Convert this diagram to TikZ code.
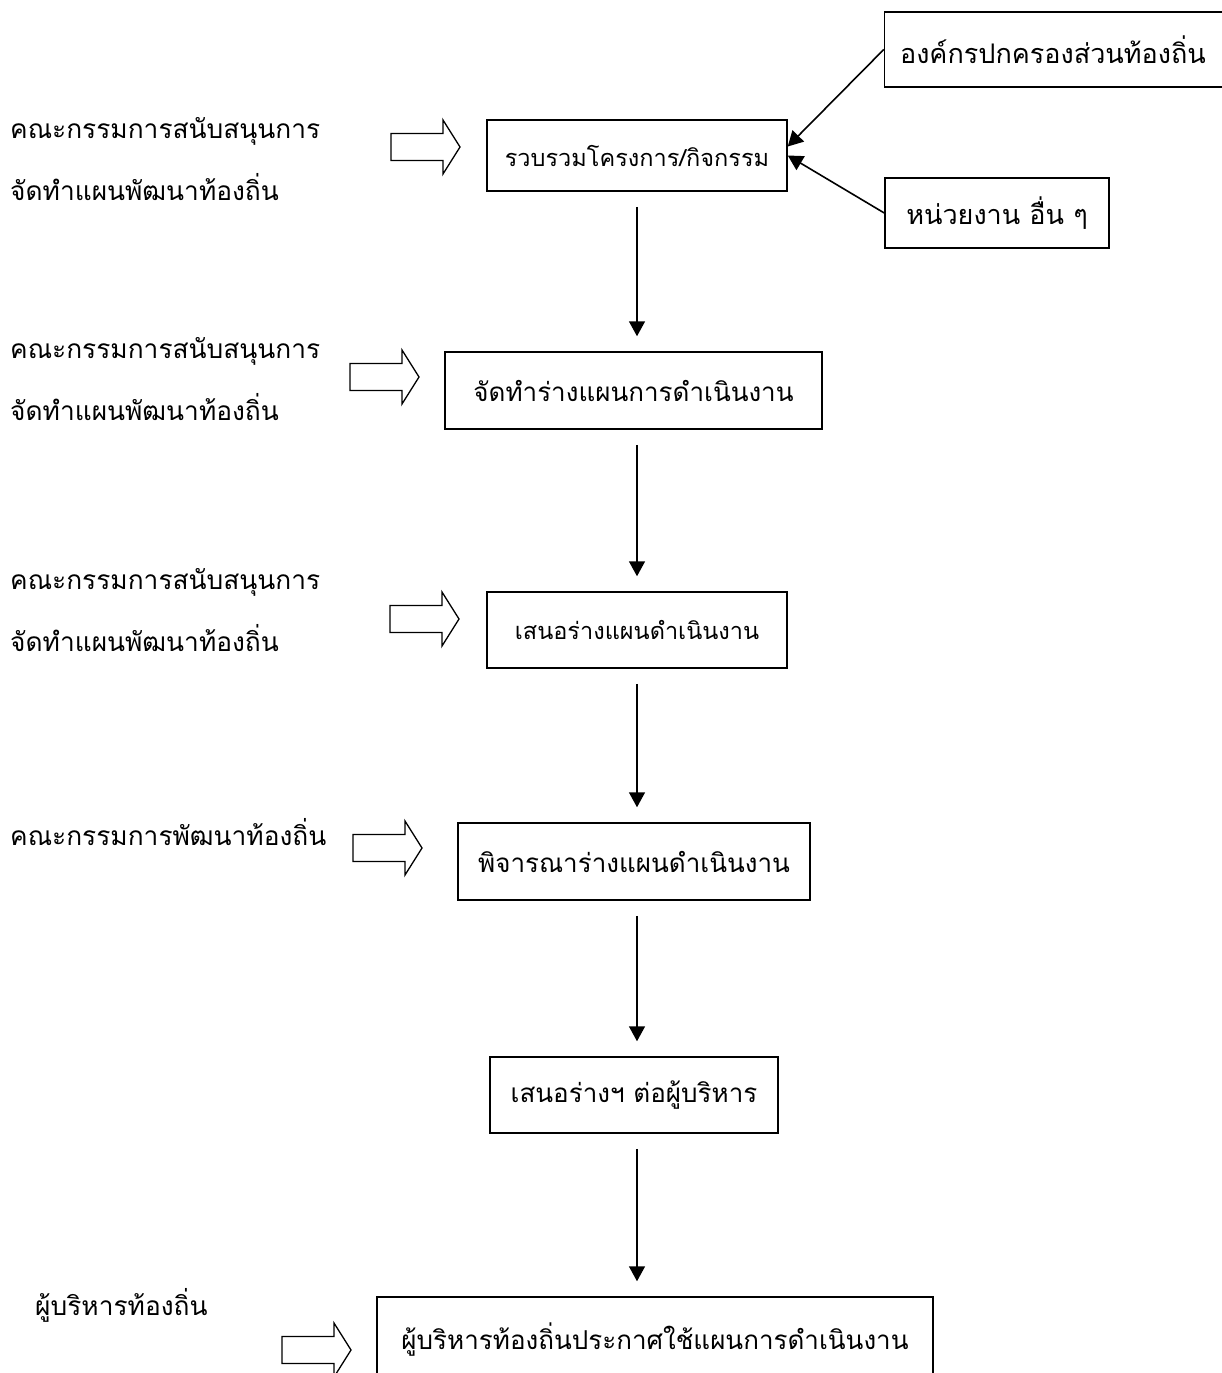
\documentclass[tikz,border=0pt]{standalone}
\usepackage{fontspec}
\newfontfamily\thaifont[Script=Thai]{Loma}
\usetikzlibrary{arrows.meta}

\begin{document}
\begin{tikzpicture}[x=1pt, y=-1pt,
    box/.style={draw, line width=1.5pt, inner sep=0pt, font=\thaifont\fontsize{26}{32}\selectfont},
    smallbox/.style={box, font=\thaifont\fontsize{23.5}{30}\selectfont},
    sidebox/.style={box, font=\thaifont\fontsize{27}{32}\selectfont},
    lbl/.style={anchor=west, inner sep=0pt, align=left, font=\thaifont\fontsize{26.3}{62}\selectfont},
    flow/.style={line width=1.6pt, -{Triangle[width=16pt,length=15pt]}, shorten <=15pt, shorten >=15pt},
    feed/.style={line width=1.6pt, -{Triangle[width=16pt,length=15pt]}},
    hollow/.style={draw, line width=1.3pt, fill=white, line join=miter}]
  \useasboundingbox (0,0) rectangle (1222,1373);

  % main column
  \node[smallbox, minimum width=300pt, minimum height=71pt] (collect) at (637,155.5) {รวบรวมโครงการ/กิจกรรม};
  \node[box, minimum width=377pt, minimum height=77pt] (draft) at (633.5,390.5) {จัดทำร่างแผนการดำเนินงาน};
  \node[smallbox, minimum width=300pt, minimum height=76pt] (propose) at (637,630) {เสนอร่างแผนดำเนินงาน};
  \node[box, minimum width=352pt, minimum height=77pt] (review) at (634,861.5) {พิจารณาร่างแผนดำเนินงาน};
  \node[box, minimum width=288pt, minimum height=76pt] (submit) at (634,1095) {เสนอร่างฯ ต่อผู้บริหาร};
  \node[box, minimum width=556pt, minimum height=86pt] (announce) at (655,1340) {\raisebox{7pt}{ผู้บริหารท้องถิ่นประกาศใช้แผนการดำเนินงาน}};

  % sources on the right
  \node[sidebox, minimum width=345pt, minimum height=75pt] (org) at (1057,49.5) {\hspace*{-8pt}องค์กรปกครองส่วนท้องถิ่น};
  \node[sidebox, minimum width=224pt, minimum height=70pt] (other) at (997,213) {หน่วยงาน อื่น ๆ};

  % who does each step
  \node[lbl] (lab1) at (10,159) {คณะกรรมการสนับสนุนการ\\จัดทำแผนพัฒนาท้องถิ่น};
  \node[lbl] (lab2) at (10,379) {คณะกรรมการสนับสนุนการ\\จัดทำแผนพัฒนาท้องถิ่น};
  \node[lbl] (lab3) at (10,610) {คณะกรรมการสนับสนุนการ\\จัดทำแผนพัฒนาท้องถิ่น};
  \node[lbl] (lab4) at (10,832) {คณะกรรมการพัฒนาท้องถิ่น};
  \node[lbl] (lab5) at (35,1305) {ผู้บริหารท้องถิ่น};

  % hollow arrows
  \foreach \x/\y in {391/147, 350/377, 390/619, 353/848, 282/1350}
    \draw[hollow] (\x,\y-13.5) -- ++(52,0) -- ++(0,-13.5) -- (\x+69,\y)
      -- (\x+52,\y+27) -- ++(0,-13.5) -- (\x,\y+13.5) -- cycle;

  % flow down
  \foreach \a/\b in {collect/draft, draft/propose, propose/review, review/submit, submit/announce}
    \draw[flow] (\a.south -| collect.south) -- (\b.north -| collect.south);

  \draw[feed] (org.west) -- ([yshift=9pt]collect.east);
  \draw[feed] (other.west) -- (collect.east);
\end{tikzpicture}
\end{document}
